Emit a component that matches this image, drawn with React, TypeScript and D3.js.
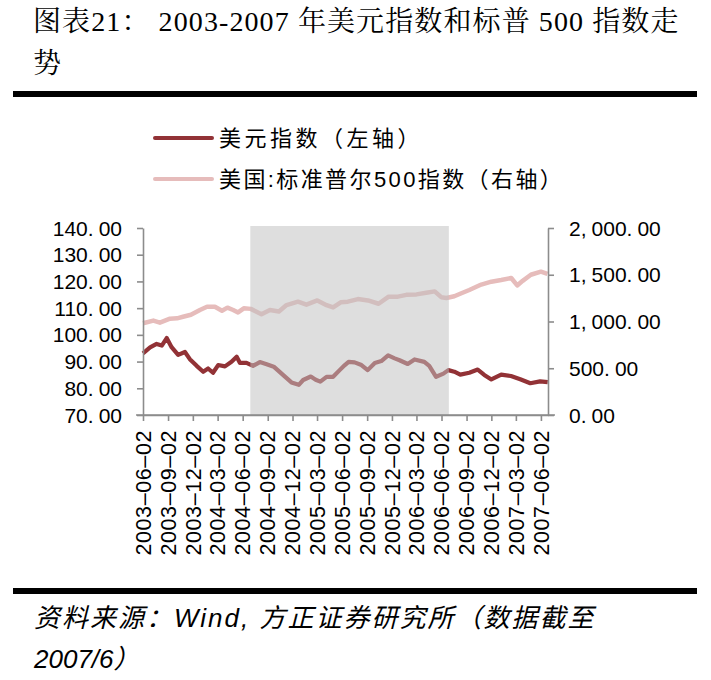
import React, { useEffect, useRef } from 'react';
import * as d3 from 'd3';

// 美元指数 (左轴)
const usdDates = [
  '2003-06-02', '2003-06-28', '2003-07-22', '2003-08-10', '2003-08-28', '2003-09-15',
  '2003-10-09', '2003-11-03', '2003-11-21', '2003-12-16', '2004-01-09', '2004-01-27',
  '2004-02-14', '2004-03-04', '2004-03-29', '2004-04-22', '2004-05-11', '2004-05-23',
  '2004-06-16', '2004-07-10', '2004-08-04', '2004-08-29', '2004-09-24', '2004-10-28',
  '2004-11-28', '2004-12-25', '2005-01-10', '2005-02-07', '2005-02-25', '2005-03-14',
  '2005-04-06', '2005-04-30', '2005-05-24', '2005-06-12', '2005-06-26', '2005-07-18',
  '2005-08-12', '2005-09-04', '2005-09-30', '2005-10-24', '2005-11-18', '2005-12-12',
  '2005-12-30', '2006-01-29', '2006-02-23', '2006-03-31', '2006-04-18', '2006-05-13',
  '2006-06-09', '2006-06-27', '2006-07-19', '2006-08-10', '2006-09-12', '2006-10-13',
  '2006-11-06', '2006-12-02', '2007-01-07', '2007-02-12', '2007-03-18', '2007-04-24',
  '2007-05-30', '2007-06-27',
];
const usdValues = [
  93.1, 95.3, 96.6, 96.0, 98.8, 95.4,
  92.5, 93.6, 90.9, 88.4, 86.2, 87.4,
  85.8, 88.7, 88.2, 89.9, 91.8, 89.5,
  89.5, 88.4, 89.8, 89.0, 88.1, 85.0,
  82.2, 81.3, 83.1, 84.4, 83.2, 82.5,
  84.3, 84.3, 86.8, 88.7, 89.9, 89.7,
  88.7, 86.8, 89.5, 90.2, 92.3, 91.2,
  90.5, 89.1, 90.8, 89.9, 88.4, 84.3,
  85.5, 86.8, 86.2, 85.1, 85.8, 87.0,
  85.0, 83.3, 85.1, 84.6, 83.4, 81.9,
  82.6, 82.3,
];

// 美国:标准普尔500指数 (右轴)
const spxDates = [
  '2003-06-02', '2003-07-10', '2003-08-03', '2003-09-09', '2003-10-05', '2003-10-27',
  '2003-11-25', '2003-12-28', '2004-01-23', '2004-02-21', '2004-03-18', '2004-04-07',
  '2004-04-28', '2004-05-16', '2004-06-06', '2004-07-02', '2004-08-10', '2004-09-10',
  '2004-10-13', '2004-11-10', '2004-12-22', '2005-01-22', '2005-03-03', '2005-04-06',
  '2005-04-30', '2005-05-28', '2005-06-23', '2005-07-30', '2005-09-05', '2005-10-14',
  '2005-11-20', '2005-12-24', '2006-01-24', '2006-03-02', '2006-04-07', '2006-05-08',
  '2006-06-01', '2006-06-20', '2006-07-19', '2006-08-14', '2006-09-12', '2006-10-26',
  '2006-12-02', '2007-01-07', '2007-02-13', '2007-03-07', '2007-03-27', '2007-04-26',
  '2007-06-02', '2007-06-26',
];
const spxValues = [
  981, 1010, 988, 1030, 1034, 1051,
  1072, 1123, 1158, 1158, 1115, 1148,
  1123, 1097, 1141, 1135, 1077, 1123,
  1108, 1176, 1212, 1180, 1225, 1175,
  1150, 1205, 1212, 1240, 1225, 1190,
  1266, 1266, 1285, 1290, 1307, 1322,
  1260, 1252, 1270, 1302, 1337, 1395,
  1426, 1444, 1465, 1386, 1435, 1500,
  1533, 1510,
];

const xTickLabels = [
  '2003-06-02', '2003-09-02', '2003-12-02', '2004-03-02', '2004-06-02', '2004-09-02',
  '2004-12-02', '2005-03-02', '2005-06-02', '2005-09-02', '2005-12-02', '2006-03-02',
  '2006-06-02', '2006-09-02', '2006-12-02', '2007-03-02', '2007-06-02',
];
const leftTicks = [70, 80, 90, 100, 110, 120, 130, 140];
const rightTicks = [0, 500, 1000, 1500, 2000];
const shadeRange = ['2004-06-30', '2006-06-29'];

const W = 711;
const H = 680;
const plot = { left: 143, right: 548, top: 228, bottom: 415 };
const darkRed = '#923236';
const pink = '#e6bcbb';
const axisGray = '#8c8c8c';
const serif = '"Liberation Serif", "Noto Serif CJK SC", "Noto Sans CJK SC", serif';
const sans = '"Liberation Sans", Arial, "Noto Sans CJK SC", sans-serif';

const App: React.FC = () => {
  const ref = useRef<SVGSVGElement | null>(null);

  useEffect(() => {
    const svg = d3.select(ref.current);
    svg.selectAll('*').remove();

    const parse = d3.timeParse('%Y-%m-%d');
    const x = d3.scaleTime()
      .domain([parse('2003-06-02') as Date, parse('2007-06-28') as Date])
      .range([plot.left, plot.right]);
    const yL = d3.scaleLinear().domain([70, 140]).range([plot.bottom, plot.top]);
    const yR = d3.scaleLinear().domain([0, 2000]).range([plot.bottom, plot.top]);

    // title + rules
    const title = svg.append('g').attr('font-family', serif).attr('font-size', 28).attr('fill', '#000');
    title.append('text').attr('x', 33).attr('y', 31).attr('letter-spacing', 1.1)
      .text('图表21： 2003-2007 年美元指数和标普 500 指数走');
    title.append('text').attr('x', 33).attr('y', 73).text('势');
    svg.append('rect').attr('x', 13).attr('y', 91).attr('width', 684).attr('height', 6).attr('fill', '#000');
    svg.append('rect').attr('x', 13).attr('y', 588).attr('width', 684).attr('height', 6).attr('fill', '#000');

    // legend
    const legend = svg.append('g').attr('font-family', sans).attr('font-size', 22);
    [
      { label: '美元指数（左轴）', color: darkRed, y: 138, ls: 3.5 },
      { label: '美国:标准普尔500指数（右轴）', color: pink, y: 179, ls: 2.4 },
    ].forEach(d => {
      legend.append('line')
        .attr('x1', 155).attr('x2', 212).attr('y1', d.y).attr('y2', d.y)
        .attr('stroke', d.color).attr('stroke-width', 4).attr('stroke-linecap', 'round');
      legend.append('text').attr('x', 219).attr('y', d.y).attr('dy', '0.36em')
        .attr('letter-spacing', d.ls).text(d.label);
    });

    // lines
    const lineL = d3.line<number>()
      .x((_, i) => x(parse(usdDates[i]) as Date))
      .y(d => yL(d));
    const lineR = d3.line<number>()
      .x((_, i) => x(parse(spxDates[i]) as Date))
      .y(d => yR(d));

    svg.append('path').datum(spxValues).attr('d', lineR)
      .attr('fill', 'none').attr('stroke', pink).attr('stroke-width', 4.5)
      .attr('stroke-linejoin', 'round');
    svg.append('path').datum(usdValues).attr('d', lineL)
      .attr('fill', 'none').attr('stroke', darkRed).attr('stroke-width', 4.2)
      .attr('stroke-linejoin', 'round');

    // shaded period, drawn on top of the lines
    const s0 = x(parse(shadeRange[0]) as Date);
    const s1 = x(parse(shadeRange[1]) as Date);
    svg.append('rect')
      .attr('x', s0).attr('y', plot.top - 2).attr('width', s1 - s0).attr('height', plot.bottom - plot.top + 2)
      .attr('fill', '#c0c0c0').attr('opacity', 0.53);

    // axes
    const styleAxis = (g: d3.Selection<SVGGElement, unknown, null, undefined>) => {
      g.selectAll('path').attr('stroke', axisGray).attr('stroke-width', 1.6);
      g.selectAll('line').attr('stroke', axisGray).attr('stroke-width', 1.6);
      g.selectAll('text').remove();
    };
    svg.append('g').attr('transform', `translate(${plot.left},0)`)
      .call(d3.axisLeft(yL).tickValues(leftTicks).tickSize(6).tickSizeOuter(0))
      .call(styleAxis);
    svg.append('g').attr('transform', `translate(${plot.right},0)`)
      .call(d3.axisRight(yR).tickValues(rightTicks).tickSize(6).tickSizeOuter(0))
      .call(styleAxis);
    const tickDates = xTickLabels.map(s => parse(s) as Date);
    svg.append('g').attr('transform', `translate(0,${plot.bottom})`)
      .call(d3.axisBottom(x).tickValues(tickDates).tickSize(6).tickSizeOuter(0))
      .call(styleAxis);
    svg.append('line').attr('x1', plot.left - 7).attr('x2', plot.right + 7)
      .attr('y1', plot.bottom).attr('y2', plot.bottom)
      .attr('stroke', axisGray).attr('stroke-width', 1.6);

    // number labels, with the gap after "," and "." seen in the picture
    const fmt = d3.format(',.2f');
    const numLabel = (g: d3.Selection<SVGGElement, unknown, null, undefined>, v: number, px: number, py: number, anchor: string) => {
      const t = g.append('text').attr('x', px).attr('y', py).attr('dy', '0.36em').attr('text-anchor', anchor);
      const parts = fmt(v).split(/([.,])/);
      parts.forEach((p, i) => {
        const ts = t.append('tspan').text(p);
        if (i > 0 && /[.,]/.test(parts[i - 1])) ts.attr('dx', 5);
      });
    };
    const labels = svg.append('g').attr('font-family', sans).attr('font-size', 21).attr('fill', '#000');
    leftTicks.forEach(v => numLabel(labels, v, 122, yL(v), 'end'));
    rightTicks.forEach(v => numLabel(labels, v, 569, yR(v), 'start'));

    const xl = svg.append('g').attr('font-family', sans).attr('font-size', 21.5).attr('fill', '#000');
    xTickLabels.forEach((s, i) => {
      xl.append('text')
        .attr('transform', `translate(${x(tickDates[i])},430) rotate(-90)`)
        .attr('text-anchor', 'end').attr('dy', '0.36em')
        .attr('letter-spacing', 0.6)
        .text(s.replace(/-/g, '\u2013'));
    });

    // source note
    const src = svg.append('g').attr('font-family', sans).attr('font-size', 26)
      .attr('font-style', 'italic').attr('fill', '#000');
    src.append('text').attr('x', 34).attr('y', 627).attr('letter-spacing', 2)
      .text('资料来源：Wind, 方正证券研究所（数据截至');
    src.append('text').attr('x', 34).attr('y', 668).text('2007/6）');
  }, []);

  return (
    <svg
      ref={ref}
      width={W}
      height={H}
      style={{ position: 'absolute', left: 0, top: 0, background: '#fff' }}
    />
  );
};

export default App;
